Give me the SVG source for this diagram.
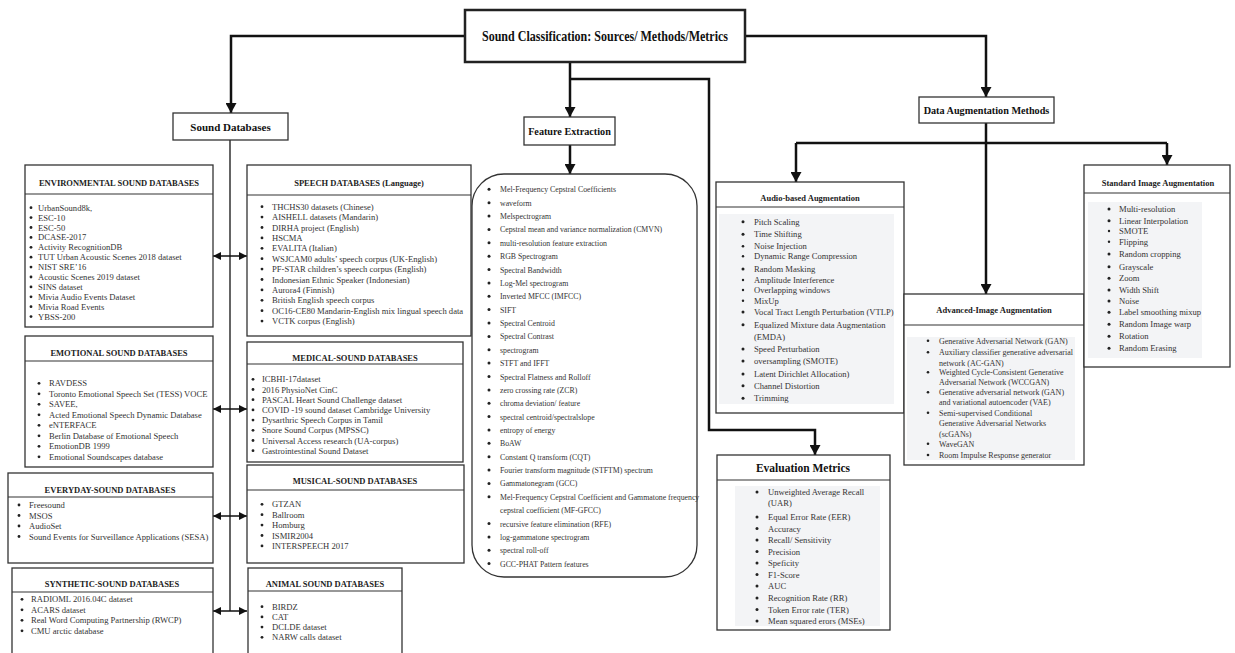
<svg xmlns="http://www.w3.org/2000/svg" width="1235" height="653" viewBox="0 0 1235 653">
<style>
.box{fill:#fff;stroke:#333;stroke-width:1.3}
.tbox{fill:#fff;stroke:#222;stroke-width:2.5}
.sep{stroke:#333;stroke-width:1.2}
.lbg{fill:#f3f4f6}
.hdr{font-family:"Liberation Serif",serif;font-weight:bold;font-size:8.5px;fill:#222;text-anchor:middle}
.ttl{font-family:"Liberation Serif",serif;font-weight:bold;fill:#111;text-anchor:middle}
.li{font-family:"Liberation Serif",serif;font-size:8.6px;fill:#333}
.fe{font-family:"Liberation Serif",serif;font-size:7.8px;fill:#333}
.ad{font-family:"Liberation Serif",serif;font-size:8px;fill:#333}
.b{fill:#222}
.conn{fill:none;stroke:#111;stroke-width:2.5}
.thin{fill:none;stroke:#111;stroke-width:1.3}
</style>
<defs>
<marker id="ah" markerUnits="userSpaceOnUse" markerWidth="10" markerHeight="11" refX="10" refY="5.5" orient="auto">
<path d="M0,0 L10,5.5 L0,11 z" fill="#111"/>
</marker>
<marker id="sh" markerUnits="userSpaceOnUse" markerWidth="8" markerHeight="8" refX="8" refY="4" orient="auto-start-reverse">
<path d="M0,0 L8,4 L0,8 z" fill="#111"/>
</marker>
</defs>
<rect width="1235" height="653" fill="#fff"/>

<g id="connectors">
<path class="conn" d="M465,36 H231 V113" marker-end="url(#ah)"/>
<path class="conn" d="M570,62 V117" marker-end="url(#ah)"/>
<path class="conn" d="M570,79 H709 V430 H815 V455" marker-end="url(#ah)"/>
<path class="conn" d="M745,36 H986 V97" marker-end="url(#ah)"/>
<path class="conn" d="M570,145 V174" marker-end="url(#ah)"/>
<path class="conn" d="M986,123 V143"/>
<path class="conn" d="M796,143 H1167"/>
<path class="conn" d="M796,143 V182" marker-end="url(#ah)"/>
<path class="conn" d="M986,143 V294" marker-end="url(#ah)"/>
<path class="conn" d="M1167,143 V165" marker-end="url(#ah)"/>
<path class="thin" d="M230,140 V611"/>
<path class="thin" d="M213,256 H247" marker-start="url(#sh)" marker-end="url(#sh)"/>
<path class="thin" d="M213,409 H247" marker-start="url(#sh)" marker-end="url(#sh)"/>
<path class="thin" d="M213,516 H247" marker-start="url(#sh)" marker-end="url(#sh)"/>
<path class="thin" d="M213,611 H247" marker-start="url(#sh)" marker-end="url(#sh)"/>
</g>

<g id="title">
<rect class="tbox" x="465" y="10" width="280" height="52"/>
<text class="ttl" transform="translate(605,41) scale(0.86,1)" x="0" y="0" font-size="14">Sound Classification: Sources/ Methods/Metrics</text>
</g>

<g id="sound-databases">
<rect class="box" x="173" y="113" width="115" height="27"/>
<text class="ttl" x="230.5" y="130.5" font-size="11">Sound Databases</text>
</g>

<g id="feature-extraction">
<rect class="box" x="524" y="117" width="91" height="28"/>
<text class="ttl" x="569.5" y="134.5" font-size="10.2">Feature Extraction</text>
</g>

<g id="data-augmentation">
<rect class="box" x="919" y="97" width="135" height="26"/>
<text class="ttl" x="986.5" y="113.5" font-size="10.2">Data Augmentation Methods</text>
</g>

<g id="environmental">
<rect class="box" x="25" y="165" width="188" height="162"/>
<line class="sep" x1="25" y1="194" x2="213" y2="194"/>
<text class="hdr" x="119" y="186">ENVIRONMENTAL SOUND DATABASES</text>
<circle class="b" cx="31" cy="207.7" r="1.4"/><text class="li" x="38" y="210.7">UrbanSound8k,</text>
<circle class="b" cx="31" cy="217.6" r="1.4"/><text class="li" x="38" y="220.6">ESC-10</text>
<circle class="b" cx="31" cy="227.5" r="1.4"/><text class="li" x="38" y="230.5">ESC-50</text>
<circle class="b" cx="31" cy="237.4" r="1.4"/><text class="li" x="38" y="240.4"> DCASE-2017</text>
<circle class="b" cx="31" cy="247.3" r="1.4"/><text class="li" x="38" y="250.3">Activity RecognitionDB</text>
<circle class="b" cx="31" cy="257.2" r="1.4"/><text class="li" x="38" y="260.2">TUT Urban Acoustic Scenes 2018 dataset</text>
<circle class="b" cx="31" cy="267.1" r="1.4"/><text class="li" x="38" y="270.1">NIST SRE’16</text>
<circle class="b" cx="31" cy="277" r="1.4"/><text class="li" x="38" y="280">Acoustic Scenes 2019 dataset</text>
<circle class="b" cx="31" cy="286.9" r="1.4"/><text class="li" x="38" y="289.9">SINS dataset</text>
<circle class="b" cx="31" cy="296.8" r="1.4"/><text class="li" x="38" y="299.8">Mivia Audio Events Dataset</text>
<circle class="b" cx="31" cy="306.7" r="1.4"/><text class="li" x="38" y="309.7">Mivia Road Events</text>
<circle class="b" cx="31" cy="316.6" r="1.4"/><text class="li" x="38" y="319.6">YBSS-200</text>
</g>

<g id="speech">
<rect class="box" x="247" y="165" width="224" height="171"/>
<line class="sep" x1="247" y1="195" x2="471" y2="195"/>
<text class="hdr" x="359" y="186">SPEECH DATABASES (Language)</text>
<circle class="b" cx="262" cy="206.7" r="1.4"/><text class="li" x="272" y="209.7">THCHS30 datasets (Chinese)</text>
<circle class="b" cx="262" cy="217.1" r="1.4"/><text class="li" x="272" y="220.1">AISHELL datasets (Mandarin)</text>
<circle class="b" cx="262" cy="227.5" r="1.4"/><text class="li" x="272" y="230.5">DIRHA project (English)</text>
<circle class="b" cx="262" cy="237.9" r="1.4"/><text class="li" x="272" y="240.9">HSCMA</text>
<circle class="b" cx="262" cy="248.3" r="1.4"/><text class="li" x="272" y="251.3">EVALITA (Italian)</text>
<circle class="b" cx="262" cy="258.7" r="1.4"/><text class="li" x="272" y="261.7">WSJCAM0 adults’ speech corpus (UK-English)</text>
<circle class="b" cx="262" cy="269.1" r="1.4"/><text class="li" x="272" y="272.1">PF-STAR children’s speech corpus (English)</text>
<circle class="b" cx="262" cy="279.5" r="1.4"/><text class="li" x="272" y="282.5">Indonesian Ethnic Speaker (Indonesian)</text>
<circle class="b" cx="262" cy="289.9" r="1.4"/><text class="li" x="272" y="292.9">Aurora4 (Finnish)</text>
<circle class="b" cx="262" cy="300.3" r="1.4"/><text class="li" x="272" y="303.3">British English speech corpus</text>
<circle class="b" cx="262" cy="310.7" r="1.4"/><text class="li" x="272" y="313.7">OC16-CE80 Mandarin-English mix lingual speech data</text>
<circle class="b" cx="262" cy="321.1" r="1.4"/><text class="li" x="272" y="324.1">VCTK corpus (English)</text>
</g>

<g id="emotional">
<rect class="box" x="25" y="336" width="188" height="131"/>
<line class="sep" x1="25" y1="361" x2="213" y2="361"/>
<text class="hdr" x="119" y="356">EMOTIONAL SOUND DATABASES</text>
<circle class="b" cx="39" cy="383.3" r="1.4"/><text class="li" x="49" y="386.3">RAVDESS</text>
<circle class="b" cx="39" cy="393.8" r="1.4"/><text class="li" x="49" y="396.8">Toronto Emotional Speech Set (TESS) VOCE</text>
<circle class="b" cx="39" cy="404.3" r="1.4"/><text class="li" x="49" y="407.3">SAVEE,</text>
<circle class="b" cx="39" cy="414.8" r="1.4"/><text class="li" x="49" y="417.8">Acted Emotional Speech Dynamic Database</text>
<circle class="b" cx="39" cy="425.3" r="1.4"/><text class="li" x="49" y="428.3">eNTERFACE</text>
<circle class="b" cx="39" cy="435.8" r="1.4"/><text class="li" x="49" y="438.8">Berlin Database of Emotional Speech</text>
<circle class="b" cx="39" cy="446.3" r="1.4"/><text class="li" x="49" y="449.3">EmotionDB 1999</text>
<circle class="b" cx="39" cy="456.8" r="1.4"/><text class="li" x="49" y="459.8">Emotional Soundscapes database</text>
</g>

<g id="medical">
<rect class="box" x="247" y="342" width="216" height="120"/>
<line class="sep" x1="247" y1="364" x2="463" y2="364"/>
<text class="hdr" x="355" y="361">MEDICAL-SOUND DATABASES</text>
<circle class="b" cx="253" cy="379.3" r="1.4"/><text class="li" x="262" y="382.3">ICBHI-17dataset</text>
<circle class="b" cx="253" cy="389.5" r="1.4"/><text class="li" x="262" y="392.5">2016 PhysioNet CinC</text>
<circle class="b" cx="253" cy="399.7" r="1.4"/><text class="li" x="262" y="402.7">PASCAL Heart Sound Challenge dataset</text>
<circle class="b" cx="253" cy="409.9" r="1.4"/><text class="li" x="262" y="412.9">COVID -19 sound dataset Cambridge University</text>
<circle class="b" cx="253" cy="420.1" r="1.4"/><text class="li" x="262" y="423.1">Dysarthric Speech Corpus in Tamil</text>
<circle class="b" cx="253" cy="430.3" r="1.4"/><text class="li" x="262" y="433.3">Snore Sound Corpus (MPSSC)</text>
<circle class="b" cx="253" cy="440.5" r="1.4"/><text class="li" x="262" y="443.5">Universal Access research (UA-corpus)</text>
<circle class="b" cx="253" cy="450.7" r="1.4"/><text class="li" x="262" y="453.7">Gastrointestinal Sound Dataset</text>
</g>

<g id="everyday">
<rect class="box" x="8" y="473" width="205" height="90"/>
<line class="sep" x1="8" y1="497" x2="213" y2="497"/>
<text class="hdr" x="110" y="493">EVERYDAY-SOUND DATABASES</text>
<circle class="b" cx="19" cy="505" r="1.4"/><text class="li" x="29" y="508">Freesound</text>
<circle class="b" cx="19" cy="515.5" r="1.4"/><text class="li" x="29" y="518.5">MSOS</text>
<circle class="b" cx="19" cy="526" r="1.4"/><text class="li" x="29" y="529">AudioSet</text>
<circle class="b" cx="19" cy="536.5" r="1.4"/><text class="li" x="29" y="539.5">Sound Events for Surveillance Applications (SESA)</text>
</g>

<g id="musical">
<rect class="box" x="247" y="465" width="217" height="98"/>
<line class="sep" x1="247" y1="490" x2="464" y2="490"/>
<text class="hdr" x="355" y="484">MUSICAL-SOUND DATABASES</text>
<circle class="b" cx="262" cy="504.3" r="1.4"/><text class="li" x="272" y="507.3">GTZAN</text>
<circle class="b" cx="262" cy="514.7" r="1.4"/><text class="li" x="272" y="517.7">Ballroom</text>
<circle class="b" cx="262" cy="525.1" r="1.4"/><text class="li" x="272" y="528.1">Homburg</text>
<circle class="b" cx="262" cy="535.5" r="1.4"/><text class="li" x="272" y="538.5">ISMIR2004</text>
<circle class="b" cx="262" cy="545.9" r="1.4"/><text class="li" x="272" y="548.9">INTERSPEECH 2017</text>
</g>

<g id="synthetic">
<rect class="box" x="12" y="568" width="201" height="100"/>
<line class="sep" x1="12" y1="592" x2="213" y2="592"/>
<text class="hdr" x="112" y="587">SYNTHETIC-SOUND DATABASES</text>
<circle class="b" cx="22" cy="599.3" r="1.4"/><text class="li" x="31" y="602.3">RADIOML 2016.04C dataset</text>
<circle class="b" cx="22" cy="609.8" r="1.4"/><text class="li" x="31" y="612.8">ACARS dataset</text>
<circle class="b" cx="22" cy="620.3" r="1.4"/><text class="li" x="31" y="623.3">Real Word Computing Partnership (RWCP)</text>
<circle class="b" cx="22" cy="630.8" r="1.4"/><text class="li" x="31" y="633.8">CMU arctic database</text>
</g>

<g id="animal">
<rect class="box" x="248" y="568" width="154" height="100"/>
<line class="sep" x1="248" y1="591" x2="402" y2="591"/>
<text class="hdr" x="325" y="587">ANIMAL SOUND DATABASES</text>
<circle class="b" cx="262" cy="606.7" r="1.4"/><text class="li" x="272" y="609.7">BIRDZ</text>
<circle class="b" cx="262" cy="616.9" r="1.4"/><text class="li" x="272" y="619.9">CAT</text>
<circle class="b" cx="262" cy="627.1" r="1.4"/><text class="li" x="272" y="630.1">DCLDE dataset</text>
<circle class="b" cx="262" cy="637.3" r="1.4"/><text class="li" x="272" y="640.3">NARW calls dataset</text>
</g>

<g id="feature-list">
<rect class="box" x="472" y="174" width="225" height="403" rx="32" ry="32"/>
<circle class="b" cx="489" cy="189.3" r="1.5"/><text class="fe" x="500" y="192.3">Mel-Frequency Cepstral Coefficients</text>
<circle class="b" cx="489" cy="202.7" r="1.5"/><text class="fe" x="500" y="205.7">waveform</text>
<circle class="b" cx="489" cy="216" r="1.5"/><text class="fe" x="500" y="219">Melspectrogram</text>
<circle class="b" cx="489" cy="229.4" r="1.5"/><text class="fe" x="500" y="232.4">Cepstral mean and variance normalization (CMVN)</text>
<circle class="b" cx="489" cy="242.8" r="1.5"/><text class="fe" x="500" y="245.8">multi-resolution feature extraction</text>
<circle class="b" cx="489" cy="256.2" r="1.5"/><text class="fe" x="500" y="259.2">RGB Spectrogram</text>
<circle class="b" cx="489" cy="269.5" r="1.5"/><text class="fe" x="500" y="272.5">Spectral Bandwidth</text>
<circle class="b" cx="489" cy="282.9" r="1.5"/><text class="fe" x="500" y="285.9">Log-Mel spectrogram</text>
<circle class="b" cx="489" cy="296.3" r="1.5"/><text class="fe" x="500" y="299.3">Inverted MFCC (IMFCC)</text>
<circle class="b" cx="489" cy="309.6" r="1.5"/><text class="fe" x="500" y="312.6">SIFT</text>
<circle class="b" cx="489" cy="323" r="1.5"/><text class="fe" x="500" y="326">Spectral Centroid</text>
<circle class="b" cx="489" cy="336.4" r="1.5"/><text class="fe" x="500" y="339.4">Spectral Contrast</text>
<circle class="b" cx="489" cy="349.7" r="1.5"/><text class="fe" x="500" y="352.7">spectrogram</text>
<circle class="b" cx="489" cy="363.1" r="1.5"/><text class="fe" x="500" y="366.1">STFT and IFFT</text>
<circle class="b" cx="489" cy="376.5" r="1.5"/><text class="fe" x="500" y="379.5">Spectral Flatness and Rolloff</text>
<circle class="b" cx="489" cy="389.9" r="1.5"/><text class="fe" x="500" y="392.9">zero crossing rate (ZCR)</text>
<circle class="b" cx="489" cy="403.2" r="1.5"/><text class="fe" x="500" y="406.2">chroma deviation/ feature</text>
<circle class="b" cx="489" cy="416.6" r="1.5"/><text class="fe" x="500" y="419.6">spectral centroid/spectralslope</text>
<circle class="b" cx="489" cy="430" r="1.5"/><text class="fe" x="500" y="433">entropy of energy</text>
<circle class="b" cx="489" cy="443.3" r="1.5"/><text class="fe" x="500" y="446.3">BoAW</text>
<circle class="b" cx="489" cy="456.7" r="1.5"/><text class="fe" x="500" y="459.7">Constant Q transform (CQT)</text>
<circle class="b" cx="489" cy="470.1" r="1.5"/><text class="fe" x="500" y="473.1">Fourier transform magnitude (STFTM) spectrum</text>
<circle class="b" cx="489" cy="483.4" r="1.5"/><text class="fe" x="500" y="486.4">Gammatonegram (GCC)</text>
<circle class="b" cx="489" cy="496.8" r="1.5"/><text class="fe" x="500" y="499.8">Mel-Frequency Cepstral Coefficient and Gammatone frequency</text>
<text class="fe" x="500" y="513.2">cepstral coefficient (MF-GFCC)</text>
<circle class="b" cx="489" cy="523.5" r="1.5"/><text class="fe" x="500" y="526.5">recursive feature elimination (RFE)</text>
<circle class="b" cx="489" cy="536.9" r="1.5"/><text class="fe" x="500" y="539.9">log-gammatone spectrogram</text>
<circle class="b" cx="489" cy="550.3" r="1.5"/><text class="fe" x="500" y="553.3">spectral roll-off</text>
<circle class="b" cx="489" cy="563.6" r="1.5"/><text class="fe" x="500" y="566.6">GCC-PHAT Pattern features</text>
</g>

<g id="audio-based">
<rect class="box" x="716" y="182" width="188" height="231"/>
<line class="sep" x1="716" y1="207" x2="904" y2="207"/>
<text class="hdr" x="810" y="201">Audio-based Augmentation</text>
<rect class="lbg" x="719" y="214" width="175" height="190"/>
<circle class="b" cx="743" cy="221.7" r="1.5"/><text class="li" x="754" y="224.7">Pitch Scaling</text>
<circle class="b" cx="743" cy="234.3" r="1.5"/><text class="li" x="754" y="237.3">Time Shifting</text>
<circle class="b" cx="743" cy="246.3" r="1.3"/><text class="li" x="754" y="249.3">Noise Injection</text>
<circle class="b" cx="743" cy="256.3" r="1.2"/><text class="li" x="754" y="259.3"> Dynamic Range Compression</text>
<circle class="b" cx="743" cy="269" r="1.5"/><text class="li" x="754" y="272">Random Masking</text>
<circle class="b" cx="743" cy="280" r="1.2"/><text class="li" x="754" y="283">Amplitude Interference</text>
<circle class="b" cx="743" cy="290" r="1.2"/><text class="li" x="754" y="293">Overlapping windows</text>
<circle class="b" cx="743" cy="300.7" r="1.2"/><text class="li" x="754" y="303.7">MixUp</text>
<circle class="b" cx="743" cy="312" r="1.5"/><text class="li" x="754" y="315">Vocal Tract Length Perturbation (VTLP)</text>
<circle class="b" cx="743" cy="324.7" r="1.5"/><text class="li" x="754" y="327.7">Equalized Mixture data Augmentation</text>
<text class="li" x="754" y="340.3">(EMDA)</text>
<circle class="b" cx="743" cy="349" r="1.5"/><text class="li" x="754" y="352">Speed Perturbation</text>
<circle class="b" cx="743" cy="361" r="1.5"/><text class="li" x="754" y="364">oversampling (SMOTE)</text>
<circle class="b" cx="743" cy="374" r="1.5"/><text class="li" x="754" y="377">Latent Dirichlet Allocation)</text>
<circle class="b" cx="743" cy="385.7" r="1.5"/><text class="li" x="754" y="388.7">Channel Distortion</text>
<circle class="b" cx="743" cy="398.3" r="1.5"/><text class="li" x="754" y="401.3">Trimming</text>
</g>

<g id="advanced-image">
<rect class="box" x="904" y="294" width="180" height="171"/>
<line class="sep" x1="904" y1="325" x2="1084" y2="325"/>
<text class="hdr" x="994" y="313">Advanced-Image Augmentation</text>
<rect class="lbg" x="907" y="337" width="168" height="123"/>
<circle class="b" cx="928" cy="340.7" r="1.3"/><text class="ad" x="939" y="343.7">Generative Adversarial Network (GAN)</text>
<circle class="b" cx="928" cy="352.3" r="1.3"/><text class="ad" x="939" y="355.3">Auxiliary classifier generative adversarial</text>
<text class="ad" x="939" y="365.7">network (AC-GAN)</text>
<circle class="b" cx="928" cy="372.3" r="1.3"/><text class="ad" x="939" y="375.3">Weighted Cycle-Consistent Generative</text>
<text class="ad" x="939" y="385.3">Adversarial Network (WCCGAN)</text>
<circle class="b" cx="928" cy="392.3" r="1.3"/><text class="ad" x="939" y="395.3">Generative adversarial network (GAN)</text>
<text class="ad" x="939" y="405.3">and variational autoencoder (VAE)</text>
<circle class="b" cx="928" cy="412.7" r="1.3"/><text class="ad" x="939" y="415.7">Semi-supervised Conditional</text>
<text class="ad" x="939" y="426">Generative Adversarial Networks</text>
<text class="ad" x="939" y="436.7">(scGANs)</text>
<circle class="b" cx="928" cy="443.7" r="1.3"/><text class="ad" x="939" y="446.7">WaveGAN</text>
<circle class="b" cx="928" cy="455" r="1.3"/><text class="ad" x="939" y="458">Room Impulse Response generator</text>
</g>

<g id="standard-image">
<rect class="box" x="1084" y="165" width="146" height="202"/>
<line class="sep" x1="1084" y1="193" x2="1230" y2="193"/>
<text class="hdr" x="1158" y="186">Standard Image Augmentation</text>
<rect class="lbg" x="1088" y="202" width="114" height="156"/>
<circle class="b" cx="1109" cy="209" r="1.5"/><text class="li" x="1119" y="212">Multi-resolution</text>
<circle class="b" cx="1109" cy="220.7" r="1.5"/><text class="li" x="1119" y="223.7">Linear Interpolation</text>
<circle class="b" cx="1109" cy="231" r="1.2"/><text class="li" x="1119" y="234">SMOTE</text>
<circle class="b" cx="1109" cy="241.7" r="1.2"/><text class="li" x="1119" y="244.7"> Flipping</text>
<circle class="b" cx="1109" cy="254" r="1.5"/><text class="li" x="1119" y="257">Random cropping</text>
<circle class="b" cx="1109" cy="266.7" r="1.5"/><text class="li" x="1119" y="269.7">Grayscale</text>
<circle class="b" cx="1109" cy="278.3" r="1.5"/><text class="li" x="1119" y="281.3">Zoom</text>
<circle class="b" cx="1109" cy="290" r="1.5"/><text class="li" x="1119" y="293">Width Shift</text>
<circle class="b" cx="1109" cy="301" r="1.5"/><text class="li" x="1119" y="304">Noise</text>
<circle class="b" cx="1109" cy="312.3" r="1.5"/><text class="li" x="1119" y="315.3">Label smoothing mixup</text>
<circle class="b" cx="1109" cy="324.3" r="1.5"/><text class="li" x="1119" y="327.3">Random Image warp</text>
<circle class="b" cx="1109" cy="336.3" r="1.5"/><text class="li" x="1119" y="339.3">Rotation</text>
<circle class="b" cx="1109" cy="348.3" r="1.5"/><text class="li" x="1119" y="351.3">Random Erasing</text>
</g>

<g id="evaluation">
<rect class="box" x="717" y="455" width="173" height="175"/>
<line class="sep" x1="717" y1="480" x2="890" y2="480"/>
<text class="ttl" x="803" y="471.5" font-size="11.5" font-weight="normal">Evaluation Metrics</text>
<rect class="lbg" x="735" y="486" width="145" height="140"/>
<circle class="b" cx="757" cy="492" r="1.5"/><text class="li" x="768" y="495">Unweighted Average Recall</text>
<text class="li" x="768" y="506">(UAR)</text>
<circle class="b" cx="757" cy="517" r="1.5"/><text class="li" x="768" y="520">Equal Error Rate (EER)</text>
<circle class="b" cx="757" cy="528.5" r="1.5"/><text class="li" x="768" y="531.5">Accuracy</text>
<circle class="b" cx="757" cy="540" r="1.5"/><text class="li" x="768" y="543">Recall/ Sensitivity</text>
<circle class="b" cx="757" cy="551.5" r="1.5"/><text class="li" x="768" y="554.5">Precision</text>
<circle class="b" cx="757" cy="563" r="1.5"/><text class="li" x="768" y="566">Speficity</text>
<circle class="b" cx="757" cy="574.5" r="1.5"/><text class="li" x="768" y="577.5">F1-Score</text>
<circle class="b" cx="757" cy="586" r="1.5"/><text class="li" x="768" y="589">AUC</text>
<circle class="b" cx="757" cy="598" r="1.5"/><text class="li" x="768" y="601">Recognition Rate (RR)</text>
<circle class="b" cx="757" cy="609.5" r="1.5"/><text class="li" x="768" y="612.5">Token Error rate (TER)</text>
<circle class="b" cx="757" cy="621" r="1.5"/><text class="li" x="768" y="624">Mean squared erors (MSEs)</text>
</g>
</svg>
